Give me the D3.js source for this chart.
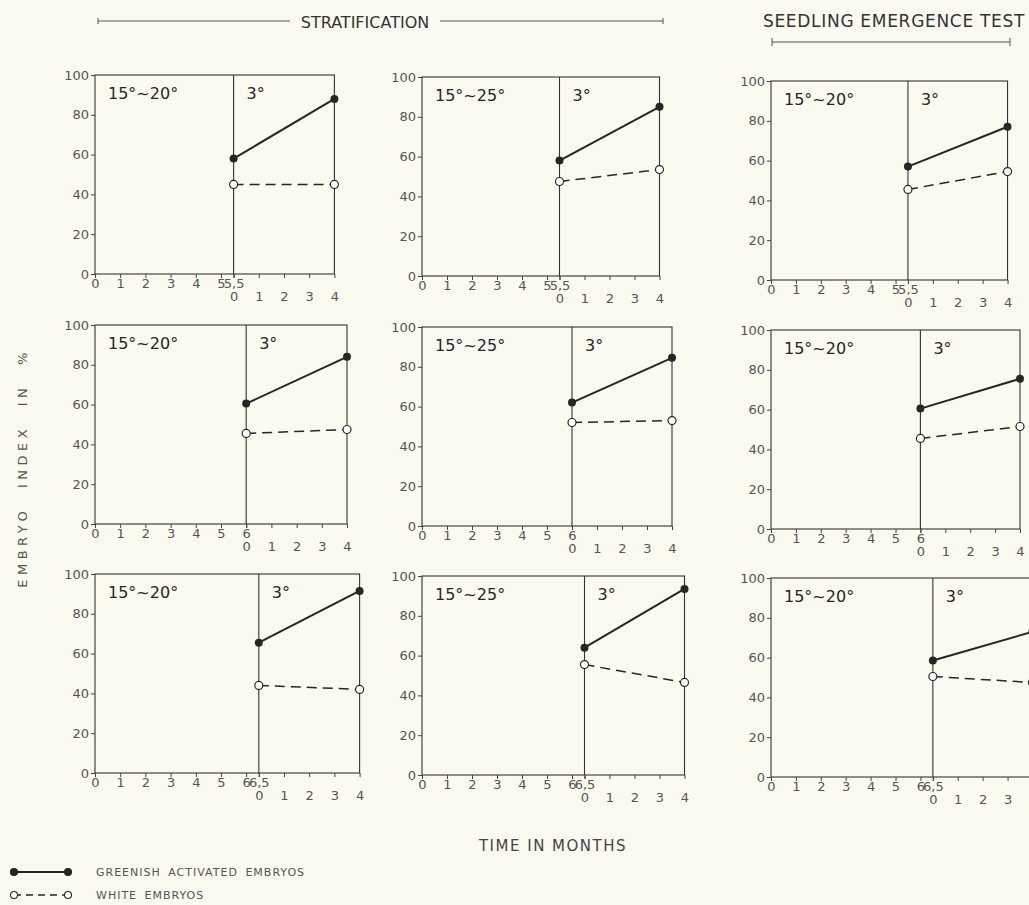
<!DOCTYPE html>
<html>
<head>
<meta charset="utf-8">
<script src="https://cdn.jsdelivr.net/npm/d3@7"></script>
<style>
  body { margin: 0; background: #fafaf0; }
  svg { display: block; font-family: "DejaVu Sans", sans-serif; }
</style>
</head>
<body>
<div id="chart"></div>
<script>
// warm phase length in months (one per row) and warm temperature (one per column)
const warmMonths = [5.5, 6, 6.5];
const warmLabels = ["15°~20°", "15°~25°", "15°~20°"];
const coldLabel = "3°";
const coldTicks = [0, 1, 2, 3, 4];
const yTicks = [0, 20, 40, 60, 80, 100];

// embryo index (%) at start and end of the 3° phase, panels row by row
const greenStart = [58, 58, 57, 60.5, 62, 60.5, 65.5, 64, 58.5];
const greenEnd   = [88, 85, 77, 84, 84.5, 75.5, 91.5, 93.5, 73];
const whiteStart = [45, 47.5, 45.5, 45.5, 52, 45.5, 44, 55.5, 50.5];
const whiteEnd   = [45, 53.5, 54.5, 47.5, 53, 51.5, 42, 46.5, 47.5];

const seriesNames = ["GREENISH ACTIVATED EMBRYOS", "WHITE EMBRYOS"];

const width = 1029, height = 905;
const colLeft = [95, 422, 771];
const pxPerMonth = [25.2, 25, 24.9];
// panel tops (scan is a bit skewed, so each panel has its own)
const panelTop = [[75, 77, 81], [325, 327, 330], [574, 576, 578]];
const plotH = 199;
const ink = "#262626", grey = "#555";

const svg = d3.select("#chart").append("svg")
    .attr("width", width)
    .attr("height", height);

svg.append("rect").attr("width", width).attr("height", height).attr("fill", "#fafaf0");

const fmt = d => String(d).replace(".", ",");

const line = d3.line().x(d => d.x).y(d => d.y);

for (let i = 0; i < 9; i++) {
    const r = Math.floor(i / 3), c = i % 3;
    const warm = warmMonths[r];
    const left = colLeft[c], top = panelTop[r][c];

    const x = d3.scaleLinear().domain([0, warm + 4]).range([left, left + (warm + 4) * pxPerMonth[c]]);
    const y = d3.scaleLinear().domain([0, 100]).range([top + plotH, top]);
    const xc = d3.scaleLinear().domain([0, 4]).range([x(warm), x(warm + 4)]);

    const g = svg.append("g").attr("class", "panel");

    // frame + divider between warm and cold phase
    g.append("rect")
        .attr("x", x(0)).attr("y", y(100))
        .attr("width", x(warm + 4) - x(0)).attr("height", y(0) - y(100))
        .attr("fill", "none").attr("stroke", "#333").attr("stroke-width", 1.1);
    g.append("line")
        .attr("x1", x(warm)).attr("x2", x(warm))
        .attr("y1", y(100)).attr("y2", y(0))
        .attr("stroke", "#333").attr("stroke-width", 1.1);

    // axes
    const yAxis = g.append("g")
        .attr("transform", `translate(${x(0)},0)`)
        .call(d3.axisLeft(y).tickValues(yTicks).tickSize(4).tickPadding(2));

    let warmTicks = d3.range(0, Math.floor(warm) + 1);
    if (warm % 1) warmTicks.push(warm);
    const xAxis = g.append("g")
        .attr("transform", `translate(0,${y(0)})`)
        .call(d3.axisBottom(x).tickValues(warmTicks).tickFormat(fmt).tickSize(4).tickPadding(1));

    const cAxis = g.append("g")
        .attr("transform", `translate(0,${y(0)})`)
        .call(d3.axisBottom(xc).tickValues(coldTicks).tickFormat(fmt).tickSize(4).tickPadding(14));

    [yAxis, xAxis, cAxis].forEach(a => {
        a.select(".domain").remove();
        a.selectAll("line").attr("stroke", "#444");
        a.selectAll("text").attr("fill", grey).attr("font-size", 13)
            .attr("font-family", "DejaVu Sans, sans-serif");
    });

    // phase labels
    g.append("text")
        .attr("x", x(0) + 13).attr("y", y(100) + 24)
        .attr("font-size", 16).attr("fill", ink)
        .text(warmLabels[c]);
    g.append("text")
        .attr("x", x(warm) + 13).attr("y", y(100) + 24)
        .attr("font-size", 16).attr("fill", ink)
        .text(coldLabel);

    // series
    const green = [greenStart[i], greenEnd[i]].map((v, k) => ({x: xc(k * 4), y: y(v)}));
    const white = [whiteStart[i], whiteEnd[i]].map((v, k) => ({x: xc(k * 4), y: y(v)}));

    g.append("path").attr("d", line(white))
        .attr("fill", "none").attr("stroke", ink).attr("stroke-width", 1.5)
        .attr("stroke-dasharray", "10,6");
    g.append("path").attr("d", line(green))
        .attr("fill", "none").attr("stroke", ink).attr("stroke-width", 2);

    g.selectAll(".wdot").data(white).enter().append("circle")
        .attr("cx", d => d.x).attr("cy", d => d.y).attr("r", 4)
        .attr("fill", "#fff").attr("stroke", ink).attr("stroke-width", 1.2);
    g.selectAll(".gdot").data(green).enter().append("circle")
        .attr("cx", d => d.x).attr("cy", d => d.y).attr("r", 4)
        .attr("fill", ink);
}

// headers
const header = svg.append("g").attr("fill", "#333").attr("font-size", 16);
header.append("text").attr("x", 365).attr("y", 28).attr("text-anchor", "middle")
    .text("STRATIFICATION");
header.append("path")
    .attr("d", "M98,18V24M98,21H290M440,21H663M663,18V24")
    .attr("fill", "none").attr("stroke", "#555").attr("stroke-width", 1);

header.append("text").attr("x", 894).attr("y", 27).attr("text-anchor", "middle")
    .attr("font-size", 17).attr("letter-spacing", 0.7)
    .text("SEEDLING EMERGENCE TEST");
header.append("path")
    .attr("d", "M772,38V46M772,42H1010M1010,38V46")
    .attr("fill", "none").attr("stroke", "#555").attr("stroke-width", 1);

// axis titles
svg.append("text")
    .attr("transform", "translate(27,468) rotate(-90)")
    .attr("text-anchor", "middle")
    .attr("font-size", 13).attr("letter-spacing", 4.5).attr("word-spacing", 10)
    .attr("fill", grey)
    .text("EMBRYO INDEX IN %");

svg.append("text")
    .attr("x", 553).attr("y", 851).attr("text-anchor", "middle")
    .attr("font-size", 15).attr("letter-spacing", 1.5)
    .attr("fill", "#444")
    .text("TIME IN MONTHS");

// legend
const legend = svg.append("g").selectAll("g").data(seriesNames).enter().append("g")
    .attr("transform", (d, k) => `translate(0,${872 + k * 23})`);
legend.append("line")
    .attr("x1", 14).attr("x2", 68)
    .attr("stroke", ink)
    .attr("stroke-width", (d, k) => k ? 1.3 : 2.2)
    .attr("stroke-dasharray", (d, k) => k ? "7,5" : null);
legend.each(function(d, k) {
    d3.select(this).selectAll("circle").data([14, 68]).enter().append("circle")
        .attr("cx", v => v).attr("r", 3.5)
        .attr("fill", k ? "#fff" : ink)
        .attr("stroke", ink).attr("stroke-width", 1.1);
});
legend.append("text")
    .attr("x", 96).attr("y", 4)
    .attr("font-size", 11).attr("letter-spacing", 1).attr("word-spacing", 3)
    .attr("fill", grey)
    .text(d => d);
</script>
</body>
</html>
